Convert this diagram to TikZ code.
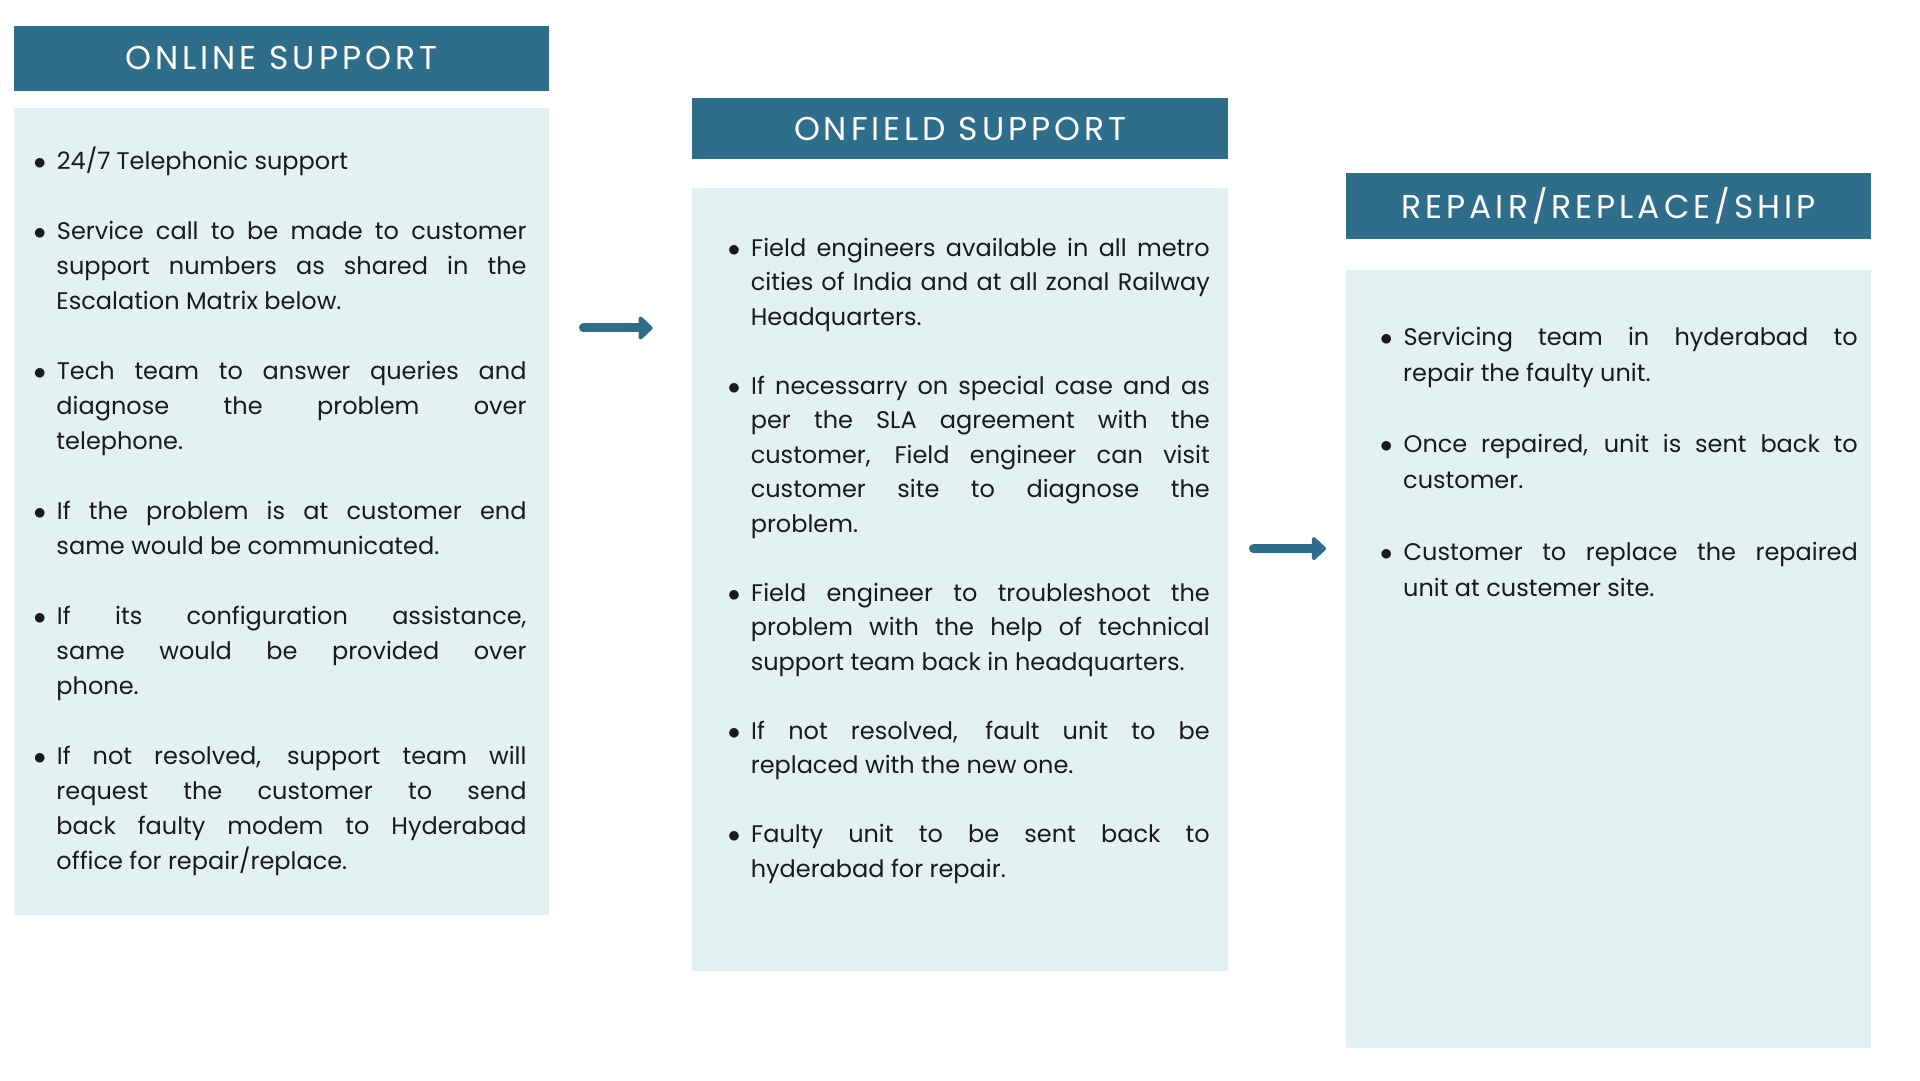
\documentclass[tikz,border=0pt]{standalone}
\usepackage{fontspec}
\setmainfont{Poppins}
\newfontfamily\headfont[LetterSpace=12]{Poppins}
\usetikzlibrary{positioning,arrows.meta}
\definecolor{hdblue}{HTML}{2E6E8A}
\definecolor{bdfill}{HTML}{E3F1F2}
\definecolor{txtcol}{HTML}{1A1A1A}
\newenvironment{blist}{\hyphenpenalty=10000\relax
	\begin{list}{$\bullet$}{\setlength\leftmargin{17pt}\setlength\labelwidth{12pt}\setlength\labelsep{11pt}\setlength\itemsep{\baselineskip}\setlength\parsep{0pt}\setlength\topsep{0pt}\setlength\partopsep{0pt}}}{\end{list}}
\begin{document}
\begin{tikzpicture}[x=1pt, y=1pt,
		head/.style={fill=hdblue, text=white, font=\headfont\fontsize{33}{36}\selectfont, inner sep=0pt, anchor=north west},
		body/.style={fill=bdfill, inner sep=0pt, anchor=north west},
		txt/.style={text=txtcol, inner sep=0pt, anchor=north west, align=justify, font=\fontsize{24}{35}\selectfont},
		flow/.style={draw=hdblue, line width=9pt, line cap=round, -{Triangle[length=15pt,width=27pt,round]}}]
	\useasboundingbox (0,0) rectangle (1920,1080);
	
	% Online support
	\node[head, minimum width=535pt, minimum height=65pt] (h1) at (13.5,1054.3) {ONLINE SUPPORT};
	\node[body, minimum width=535pt, minimum height=807pt] (b1) at (13.5,972.2) {};
	\node[txt, text width=487pt] (t1) at (39.3,946) {
		\begin{blist}
			\item 24/7 Telephonic support
			\item Service call to be made to customer\linebreak support numbers as shared in the\linebreak Escalation Matrix below.
			\item Tech team to answer queries and\linebreak diagnose the problem over\linebreak telephone.
			\item If the problem is at customer end\linebreak same would be communicated.
			\item If its configuration assistance,\linebreak same would be provided over\linebreak phone.
			\item If not resolved, support team will\linebreak request the customer to send\linebreak back faulty modem to Hyderabad\linebreak office for repair/replace.
		\end{blist}};
	
	% Onfield support
	\node[head, minimum width=536.4pt, minimum height=61.2pt] (h2) at (691.8,982) {ONFIELD SUPPORT};
	\node[body, minimum width=536.4pt, minimum height=783.6pt] (b2) at (691.8,892.6) {};
	\node[txt, text width=476pt, font=\fontsize{24}{34.5}\selectfont] (t2) at (733.6,858.5) {
		\begin{blist}
			\item Field engineers available in all metro\linebreak cities of India and at all zonal Railway\linebreak Headquarters.
			\item If necessarry on special case and as\linebreak per the SLA agreement with the\linebreak customer, Field engineer can visit\linebreak customer site to diagnose the\linebreak problem.
			\item Field engineer to troubleshoot the\linebreak problem with the help of technical\linebreak support team back in headquarters.
			\item If not resolved, fault unit to be\linebreak replaced with the new one.
			\item Faulty unit to be sent back to\linebreak hyderabad for repair.
		\end{blist}};
	
	% Repair / replace / ship
	\node[head, minimum width=525.2pt, minimum height=66pt] (h3) at (1345.8,907.3) {REPAIR/REPLACE/SHIP};
	\node[body, minimum width=525.2pt, minimum height=778.8pt] (b3) at (1345.8,810.6) {};
	\node[txt, text width=471.6pt, font=\fontsize{24}{35.8}\selectfont] (t3) at (1386,770.5) {
		\begin{blist}
			\item Servicing team in hyderabad to\linebreak repair the faulty unit.
			\item Once repaired, unit is sent back to\linebreak customer.
			\item Customer to replace the repaired\linebreak unit at custemer site.
		\end{blist}};
	
	% Arrows
	\coordinate (a1s) at (583.5,752);
	\coordinate (a1e) at (652.7,752);
	\coordinate (a2s) at (1253.5,531.4);
	\coordinate (a2e) at (1326,531.4);
	\draw[flow] (a1s) -- (a1e);
	\draw[flow] (a2s) -- (a2e);
\end{tikzpicture}
\end{document}
